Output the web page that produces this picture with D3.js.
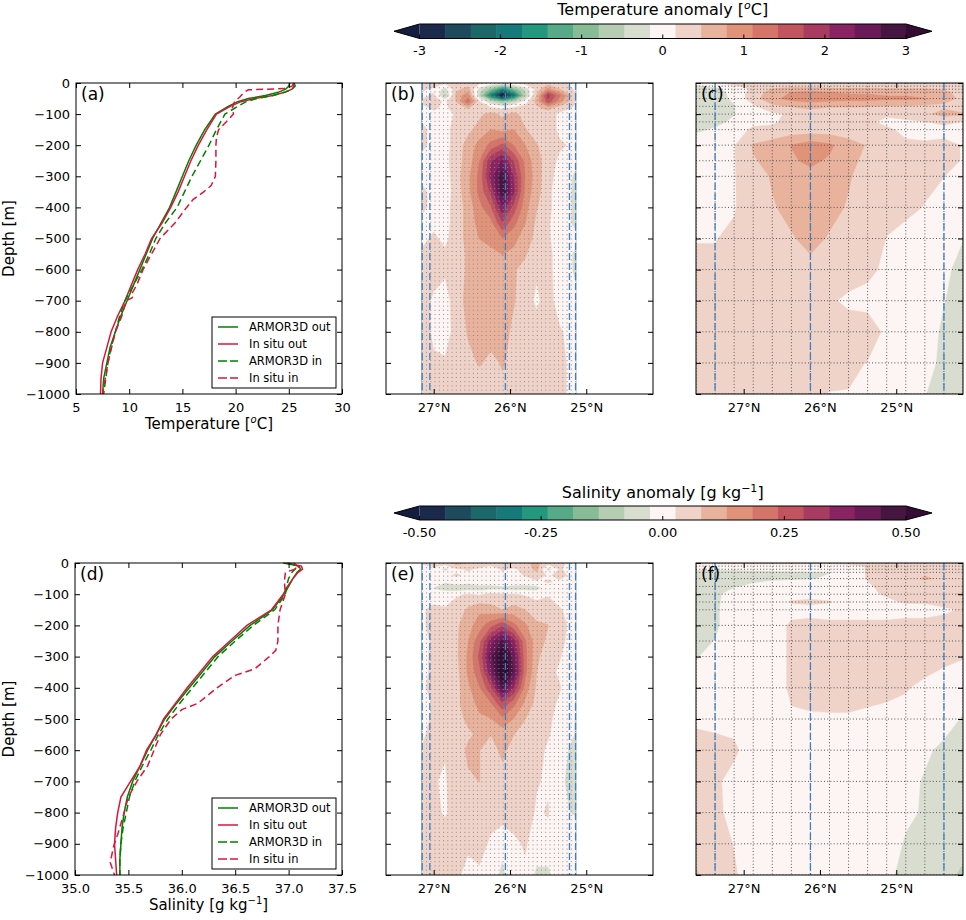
<!DOCTYPE html>
<html lang="en">
<head>
<meta charset="UTF-8">
<title>eddy anomaly sections</title>
<script src="https://cdn.jsdelivr.net/npm/d3@7"></script>
<style>
  body { margin: 0; background: #fff; }
  svg { font-family: "DejaVu Sans", sans-serif; }
</style>
</head>
<body>
<svg id="fig" width="966" height="920"></svg>
<script>
// ---- ticks ----
const depthTicks = [0, 100, 200, 300, 400, 500, 600, 700, 800, 900, 1000];
const latTicks = [27, 26, 25];
const tempTicks = [5, 10, 15, 20, 25, 30];
const salTicks = [35.0, 35.5, 36.0, 36.5, 37.0, 37.5];
const tempCbTicks = [-3, -2, -1, 0, 1, 2, 3];
const salCbTicks = [-0.5, -0.25, 0, 0.25, 0.5];

// discrete colormap (19 levels) + extend colours
const palette = ['#1b2a4c','#1f4a5e','#1c6767','#16797a','#24977f','#56aa88','#88bc97','#b5ceb2','#d9ddd0',
                 '#fcf5f3','#f0d3c8','#e8b29c','#e09378','#d5756a','#c2545f','#a83c60','#8a2362','#6b1a58','#461641'];
const underColor = '#141c40', overColor = '#340d35';

// ---- profiles (a): temperature ----
const tDepth = [0,10,20,30,40,50,60,75,100,150,200,250,300,350,400,450,500,550,600,650,700,750,800,850,900,950,1000];
const armorOutT = [25.1,25.0,24.7,24.0,22.8,21.2,20.2,19.3,18.1,17.1,16.3,15.6,15.0,14.4,13.8,13.0,12.2,11.6,11.0,10.4,9.8,9.2,8.7,8.2,7.9,7.6,7.5];
const insituOutT = [25.4,25.5,25.3,24.6,23.5,21.8,20.5,19.5,18.2,17.3,16.5,15.8,15.2,14.6,13.9,13.1,12.1,11.5,10.8,10.2,9.6,8.9,8.3,7.9,7.5,7.35,7.3];
const armorInT = [25.5,25.6,25.3,24.6,23.5,22.0,21.0,20.2,19.0,18.2,17.5,16.7,15.9,15.2,14.5,13.4,12.5,11.9,11.2,10.4,9.6,9.1,8.7,8.3,8.0,7.8,7.6];
const tDepthInsituIn = [0,10,18,22,30,45,60,80,100,115,150,175,200,250,300,330,350,375,400,450,500,550,600,650,680,690,700,750,800,900,1000];
const insituInT = [25.5,25.3,24.5,21.2,20.8,20.4,19.9,19.7,19.8,19.4,18.4,18.2,18.15,18.15,18.1,17.7,17.0,16.0,15.4,14.3,12.9,12.1,11.3,10.7,10.2,10.3,9.7,9.3,8.7,8.0,7.5];

// ---- profiles (d): salinity ----
const sDepth = [0,10,20,30,50,75,100,150,200,250,300,350,400,450,500,550,600,650,700,750,800,850,900,950,1000];
const armorOutS = [36.95,37.10,37.11,37.08,37.04,37.00,36.96,36.85,36.64,36.47,36.31,36.19,36.07,35.95,35.84,35.76,35.68,35.61,35.54,35.49,35.46,35.44,35.43,35.42,35.42];
const insituOutS = [36.98,37.12,37.13,37.09,37.04,36.99,36.95,36.84,36.61,36.45,36.29,36.17,36.05,35.94,35.83,35.76,35.67,35.61,35.52,35.43,35.40,35.38,35.37,35.38,35.39];
const armorInS = [37.00,37.08,37.06,37.03,37.00,36.98,36.97,36.87,36.67,36.50,36.34,36.22,36.10,35.98,35.87,35.78,35.71,35.63,35.56,35.51,35.48,35.45,35.43,35.42,35.42];
const sDepthInsituIn = [0,15,30,60,100,120,150,200,250,280,300,340,360,400,450,470,500,550,600,650,700,750,800,870,910,960,1000];
const insituInS = [37.05,37.10,36.97,36.96,36.97,36.95,36.92,36.90,36.90,36.88,36.82,36.68,36.50,36.33,36.15,36.00,35.90,35.80,35.74,35.68,35.58,35.50,35.46,35.40,35.36,35.33,35.37];

// ---- glider sections (b, e) ----
const gliderLats = [27.15,27.0,26.85,26.7,26.55,26.4,26.25,26.1,25.95,25.8,25.65,25.5,25.35,25.14];
const gliderDepths = [0,20,40,60,80,100,150,200,250,300,350,400,450,500,550,600,700,800,900,1000];
const tempGlider = [
  [0.2,0.3,0.2,0.3,0.3,0.2,0.1,0.0,0.2,0.3,0.2,0.3,0.2,0.1],
  [0.2,0.1,-0.3,0.4,0.6,-0.3,-0.9,-1.7,-1.0,-0.4,0.3,0.9,0.5,0.1],
  [0.1,0.2,-0.6,0.6,1.0,-0.5,-1.9,-3.3,-2.1,-0.6,0.5,1.9,1.2,0.2],
  [0.2,0.3,0.1,0.5,1.3,0.2,-0.4,-0.8,-0.5,0.0,0.6,1.6,0.9,0.2],
  [0.1,0.2,0.1,0.3,0.5,0.3,0.2,0.1,0.2,0.3,0.4,0.6,0.3,0.1],
  [0.1,0.1,0.05,0.2,0.3,0.4,0.6,0.4,0.6,0.3,0.2,0.3,0.1,0.0],
  [0.2,0.1,0.05,0.3,0.4,0.6,0.8,0.7,0.8,0.5,0.3,0.3,0.1,0.1],
  [0.2,0.1,0.05,0.3,0.6,0.9,1.2,1.5,1.1,0.8,0.5,0.3,0.2,0.1],
  [0.1,0.1,0.05,0.35,0.6,1.1,2.0,2.4,1.7,1.0,0.6,0.3,0.1,-0.1],
  [0.1,0.1,0.0,0.35,0.7,1.2,2.2,2.9,2.0,1.1,0.6,0.3,0.0,-0.2],
  [0.2,0.1,0.0,0.3,0.7,1.2,1.8,2.9,2.1,1.0,0.6,0.25,-0.05,-0.2],
  [0.2,0.1,0.05,0.3,0.6,1.0,1.4,2.3,1.6,0.9,0.5,0.25,-0.05,-0.2],
  [0.1,0.1,0.05,0.3,0.6,0.9,1.0,1.7,1.2,0.8,0.4,0.2,-0.05,-0.2],
  [0.1,0.2,0.1,0.3,0.6,0.8,0.9,1.1,0.9,0.6,0.4,0.2,0.0,-0.1],
  [0.2,0.3,0.2,0.4,0.5,0.6,0.7,0.8,0.7,0.5,0.3,0.25,0.0,-0.2],
  [0.2,0.3,0.2,0.4,0.5,0.5,0.6,0.7,0.5,0.4,0.2,0.25,0.0,-0.2],
  [0.3,0.1,0.05,0.3,0.6,0.5,0.6,0.6,0.5,0.3,0.1,0.3,0.0,-0.1],
  [0.3,0.1,0.0,0.3,0.5,0.6,0.6,0.6,0.4,0.4,0.3,0.3,0.2,0.0],
  [0.3,0.2,0.2,0.3,0.4,0.5,0.4,0.5,0.4,0.3,0.2,0.3,0.2,0.1],
  [0.2,0.2,0.2,0.3,0.3,0.3,0.3,0.4,0.3,0.3,0.2,0.3,0.2,0.1]
];
const salGlider = [
  [0.03,0.04,0.06,0.10,0.08,0.05,0.04,0.06,0.05,0.07,0.09,0.05,0.03,0.02],
  [0.01,0.02,-0.05,0.02,0.03,0.02,0.01,0.03,0.02,0.04,0.10,-0.05,0.03,0.01],
  [0.01,0.00,0.02,0.03,0.02,0.01,0.02,0.02,0.01,0.03,0.05,0.02,0.04,0.01],
  [0.00,0.01,-0.02,0.01,-0.01,0.02,0.00,0.01,0.02,0.00,0.02,0.03,0.02,0.00],
  [0.00,-0.03,-0.06,-0.07,-0.06,-0.06,-0.05,-0.04,-0.06,-0.05,-0.05,0.01,0.00,0.00],
  [0.01,0.00,0.01,0.02,0.03,0.02,0.04,0.03,0.03,0.02,0.01,0.02,0.01,0.00],
  [0.02,0.04,0.03,0.05,0.09,0.12,0.10,0.08,0.10,0.08,0.05,0.06,0.03,0.01],
  [0.02,0.04,0.05,0.07,0.11,0.16,0.22,0.28,0.20,0.14,0.09,0.08,0.04,0.01],
  [0.02,0.03,0.05,0.07,0.13,0.22,0.37,0.46,0.36,0.19,0.10,0.07,0.04,0.00],
  [0.01,0.04,0.05,0.07,0.14,0.25,0.43,0.56,0.42,0.20,0.09,0.05,0.03,-0.01],
  [0.01,0.04,0.06,0.06,0.14,0.22,0.38,0.57,0.44,0.20,0.08,0.04,0.02,-0.01],
  [0.02,0.04,0.05,0.06,0.12,0.18,0.28,0.46,0.34,0.16,0.07,0.04,0.03,-0.01],
  [0.01,0.03,0.04,0.07,0.10,0.15,0.18,0.28,0.20,0.12,0.06,0.04,0.02,-0.01],
  [0.02,0.03,0.03,0.06,0.09,0.12,0.13,0.17,0.13,0.08,0.05,0.03,0.02,-0.03],
  [0.02,0.04,0.04,0.05,0.07,0.09,0.08,0.10,0.08,0.06,0.04,0.03,0.01,-0.03],
  [0.03,0.04,0.03,0.05,0.09,0.08,0.06,0.09,0.06,0.05,0.04,0.02,-0.01,-0.04],
  [0.04,0.03,0.02,0.06,0.07,0.08,0.05,0.06,0.03,0.05,0.03,0.02,-0.02,-0.04],
  [0.05,0.04,0.02,0.05,0.06,0.05,0.04,0.05,0.04,0.05,0.02,0.03,-0.02,-0.03],
  [0.04,0.05,0.06,0.04,0.03,0.04,0.02,-0.01,0.02,0.03,0.01,0.01,0.02,0.00],
  [0.03,0.04,0.05,0.03,0.02,0.02,0.00,-0.04,0.01,0.02,-0.04,-0.04,0.01,0.00]
];

// ---- ARMOR3D sections (c, f) ----
const armorLats = [27.625,27.375,27.125,26.875,26.625,26.375,26.125,25.875,25.625,25.375,25.125,24.875,24.625,24.375,24.125];
const armorDepths = [0,10,20,30,50,75,100,125,150,200,250,300,400,500,600,700,800,900,1000];
const tempArmor = [
  [-0.1,0.1,0.3,0.3,0.3,0.35,0.35,0.3,0.3,0.3,0.3,0.3,0.3,0.3,0.2],
  [-0.2,-0.1,0.1,0.3,0.35,0.4,0.4,0.35,0.35,0.35,0.35,0.35,0.35,0.3,0.3],
  [-0.3,-0.25,0.0,0.2,0.5,0.6,0.6,0.55,0.55,0.55,0.5,0.5,0.5,0.45,0.3],
  [-0.35,-0.3,-0.05,0.3,0.6,0.8,0.85,0.8,0.75,0.75,0.7,0.7,0.65,0.55,0.35],
  [-0.35,-0.3,-0.1,0.35,0.7,0.9,1.0,0.95,0.9,0.9,0.85,0.85,0.8,0.6,0.4],
  [-0.35,-0.3,-0.18,0.1,0.4,0.5,0.55,0.5,0.5,0.5,0.45,0.45,0.4,0.4,0.35],
  [-0.35,-0.3,-0.17,0.05,0.1,0.2,0.35,0.3,0.25,0.2,0.2,0.3,0.4,0.6,0.5],
  [-0.3,-0.25,-0.1,0.1,0.1,0.3,0.4,0.35,0.3,0.2,0.1,0.1,0.15,0.2,0.15],
  [-0.22,-0.12,0.05,0.2,0.25,0.3,0.3,0.3,0.3,0.25,0.2,0.1,0.05,0.1,0.1],
  [0.05,0.08,0.14,0.5,0.6,0.8,0.95,0.85,0.6,0.45,0.3,0.2,0.2,0.2,0.15],
  [0.05,0.08,0.14,0.45,0.55,0.75,0.85,0.75,0.55,0.4,0.3,0.2,0.2,0.2,0.15],
  [0.05,0.08,0.14,0.35,0.5,0.6,0.7,0.6,0.5,0.35,0.25,0.2,0.2,0.16,0.1],
  [0.05,0.08,0.14,0.3,0.45,0.55,0.65,0.55,0.45,0.3,0.25,0.2,0.15,0.1,0.05],
  [0.15,0.15,0.2,0.3,0.4,0.45,0.55,0.45,0.35,0.3,0.15,0.1,0.05,-0.05,-0.15],
  [0.2,0.2,0.25,0.3,0.3,0.35,0.4,0.35,0.3,0.2,0.12,0.1,0.0,-0.1,-0.25],
  [0.25,0.25,0.25,0.3,0.3,0.3,0.3,0.2,0.1,0.1,0.1,0.05,0.0,-0.15,-0.25],
  [0.3,0.3,0.3,0.3,0.3,0.3,0.3,0.3,0.3,0.25,0.12,0.05,-0.05,-0.2,-0.3],
  [0.3,0.3,0.3,0.3,0.3,0.3,0.3,0.25,0.2,0.15,0.1,0.0,-0.1,-0.2,-0.3],
  [0.25,0.25,0.25,0.25,0.25,0.2,0.2,0.15,0.15,0.1,0.05,-0.05,-0.15,-0.25,-0.3]
];
const salArmor = [
  [0.04,0.04,0.04,0.04,0.04,0.04,0.04,0.04,0.04,0.04,0.04,0.05,0.05,0.05,0.05],
  [0.0,0.0,0.0,0.0,0.0,0.0,0.0,0.0,0.01,0.03,0.04,0.05,0.05,0.05,0.05],
  [-0.02,-0.02,-0.02,-0.015,-0.01,-0.005,0.0,0.0,0.0,0.03,0.04,0.05,0.06,0.06,0.05],
  [-0.045,-0.045,-0.045,-0.04,-0.04,-0.037,-0.035,-0.028,0.0,0.03,0.04,0.05,0.07,0.06,0.05],
  [-0.045,-0.045,-0.04,-0.035,-0.033,-0.032,-0.03,-0.02,0.0,0.03,0.04,0.06,0.085,0.07,0.05],
  [-0.045,-0.04,-0.03,-0.02,-0.01,0.0,0.0,0.0,0.0,0.02,0.04,0.04,0.05,0.05,0.05],
  [-0.045,-0.035,-0.01,0.0,0.0,0.01,0.01,0.0,0.0,0.02,0.03,0.04,0.05,0.07,0.085],
  [-0.045,-0.035,-0.005,0.0,0.0,0.03,0.035,0.03,0.0,0.0,0.02,0.03,0.03,0.04,0.04],
  [-0.045,-0.035,0.0,0.0,0.0,0.01,0.01,0.0,0.0,0.0,0.0,0.01,0.01,0.02,0.03],
  [-0.045,-0.035,0.0,0.0,0.0,0.035,0.04,0.04,0.04,0.04,0.04,0.04,0.04,0.04,0.04],
  [-0.04,-0.025,0.0,0.0,0.0,0.035,0.045,0.05,0.05,0.05,0.05,0.05,0.05,0.05,0.045],
  [-0.03,-0.01,0.0,0.0,0.0,0.035,0.045,0.05,0.05,0.05,0.05,0.05,0.05,0.04,0.03],
  [0.0,0.0,0.0,0.0,0.0,0.035,0.045,0.05,0.05,0.045,0.04,0.03,0.015,0.0,-0.01],
  [0.02,0.015,0.01,0.01,0.01,0.02,0.02,0.02,0.02,0.015,0.01,0.01,0.0,-0.01,-0.03],
  [0.04,0.04,0.035,0.0,0.0,0.0,0.0,0.0,0.0,0.0,0.0,0.0,-0.02,-0.035,-0.045],
  [0.04,0.035,0.01,0.0,0.0,0.0,0.0,0.0,0.0,0.0,0.0,-0.015,-0.03,-0.04,-0.045],
  [0.045,0.035,0.015,0.0,0.0,0.0,0.0,0.0,0.0,0.0,0.0,-0.02,-0.03,-0.04,-0.05],
  [0.06,0.04,0.025,0.0,0.0,0.0,0.0,0.0,0.0,0.0,-0.01,-0.03,-0.035,-0.045,-0.06],
  [0.085,0.045,0.03,0.01,0.0,0.0,0.0,0.0,0.0,0.0,-0.02,-0.035,-0.045,-0.06,-0.09]
];

const gliderMarks = [27.15, 27.05, 26.06, 25.22, 25.14];   // blue dashed lines (b, e)
const armorMarks = [27.375, 26.125, 24.375];               // blue dashed lines (c, f)

// ---- layout ----
const svg = d3.select('#fig');
const boxes = {
  a: {l: 76, r: 342, t: 83, b: 394}, b: {l: 386, r: 653, t: 83, b: 394}, c: {l: 696, r: 963, t: 83, b: 394},
  d: {l: 75, r: 342, t: 563, b: 875}, e: {l: 386, r: 653, t: 563, b: 875}, f: {l: 696, r: 963, t: 563, b: 875}
};
const green = '#008000', red = '#dc143c';
const levelsFor = (lo, hi) => d3.range(20).map(k => lo + k * (hi - lo) / 19);
const depthFmt = d => d === 0 ? '0' : '\u2212' + d;

function clean(sel) {
  sel.select('.domain').remove();
  sel.attr('font-family', 'DejaVu Sans').attr('font-size', 13);
  sel.selectAll('line').attr('stroke', '#000');
  sel.selectAll('text').attr('fill', '#000');
}

function axes(box, x, y, xTicks, xFmt, yLab) {
  const tk = 5;
  svg.append('g').attr('transform', `translate(0,${box.b})`)
    .call(d3.axisBottom(x).tickValues(xTicks).tickSize(-tk).tickPadding(9).tickFormat(xFmt)).call(clean);
  svg.append('g').attr('transform', `translate(0,${box.t})`)
    .call(d3.axisTop(x).tickValues(xTicks).tickSize(-tk).tickFormat('')).call(clean);
  svg.append('g').attr('transform', `translate(${box.l},0)`)
    .call(d3.axisLeft(y).tickValues(depthTicks).tickSize(-tk).tickPadding(6).tickFormat(yLab ? depthFmt : '')).call(clean);
  svg.append('g').attr('transform', `translate(${box.r},0)`)
    .call(d3.axisRight(y).tickValues(depthTicks).tickSize(-tk).tickFormat('')).call(clean);
  svg.append('rect').attr('x', box.l).attr('y', box.t).attr('width', box.r - box.l).attr('height', box.b - box.t)
    .attr('fill', 'none').attr('stroke', '#000').attr('stroke-width', 1);
}

function panelLabel(box, txt) {
  svg.append('text').attr('x', box.l + 5).attr('y', box.t + 17).attr('font-size', 17).text(txt);
}

function profilePanel(box, domain, xTicks, xFmt, series, label, xLabelParts) {
  const x = d3.scaleLinear().domain(domain).range([box.l, box.r]);
  const y = d3.scaleLinear().domain([0, 1000]).range([box.t, box.b]);
  const g = svg.append('g');
  series.forEach(s => {
    g.append('path').datum(d3.zip(s.depth, s.vals))
      .attr('d', d3.line().x(d => x(d[1])).y(d => y(d[0])))
      .attr('fill', 'none').attr('stroke', s.color).attr('stroke-width', 1.5)
      .attr('stroke-dasharray', s.dash ? '7,4' : null);
  });
  axes(box, x, y, xTicks, xFmt, true);
  panelLabel(box, label);
  // legend
  const lg = svg.append('g').attr('transform', `translate(${box.r - 130},${box.b - 77})`);
  lg.append('rect').attr('width', 124).attr('height', 71).attr('fill', '#fff').attr('stroke', '#000').attr('stroke-width', 1);
  series.forEach((s, i) => {
    const yy = 10 + i * 17;
    lg.append('line').attr('x1', 6).attr('x2', 26).attr('y1', yy).attr('y2', yy)
      .attr('stroke', s.color).attr('stroke-width', 1.5).attr('stroke-dasharray', s.dash ? '9,3' : null);
    lg.append('text').attr('x', 37).attr('y', yy + 4).attr('font-size', 11.5).text(s.name);
  });
  // axis labels
  svg.append('text').attr('transform', `translate(14,${(box.t + box.b) / 2}) rotate(-90)`)
    .attr('text-anchor', 'middle').attr('font-size', 15).text('Depth [m]');
  const xl = svg.append('text').attr('x', (box.l + box.r) / 2).attr('y', box.b + 35)
    .attr('text-anchor', 'middle').attr('font-size', 15);
  xLabelParts(xl);
}

function drawField(g, box, lats, depths, grid, lo, hi, marks, dotLats, dotDepths, dot) {
  const x = d3.scaleLinear().domain([27.625, 24.125]).range([box.l, box.r]);
  const y = d3.scaleLinear().domain([0, 1000]).range([box.t, box.b]);
  const n = lats.length, m = depths.length;
  const ix = d3.scaleLinear().domain(d3.range(n)).range(lats).clamp(true);
  const iy = d3.scaleLinear().domain(d3.range(m)).range(depths).clamp(true);
  const levels = [-1e9].concat(levelsFor(lo, hi));
  const colors = [underColor].concat(palette, [overColor]);
  const cs = d3.contours().size([n, m]).thresholds(levels)(grid.flat());
  const toPath = mp => mp.coordinates.map(poly => poly.map(ring =>
    'M' + ring.map(p => x(ix(p[0] - 0.5)).toFixed(2) + ',' + y(iy(p[1] - 0.5)).toFixed(2)).join('L') + 'Z').join('')).join('');
  const clipId = 'clip' + Math.round(box.l) + '_' + Math.round(box.t);
  svg.append('clipPath').attr('id', clipId).append('rect')
    .attr('x', box.l).attr('y', box.t).attr('width', box.r - box.l).attr('height', box.b - box.t);
  const fg = g.append('g').attr('clip-path', `url(#${clipId})`);
  fg.selectAll('path.fill').data(cs).join('path').attr('class', 'fill')
    .attr('d', toPath).attr('fill-rule', 'evenodd')
    .attr('fill', (d, i) => colors[i]).attr('stroke', (d, i) => colors[i]).attr('stroke-width', 0.4);
  // dotted sampling grid
  fg.selectAll('line.dv').data(dotLats).join('line').attr('class', 'dv')
    .attr('x1', d => x(d)).attr('x2', d => x(d)).attr('y1', box.t).attr('y2', box.b)
    .attr('stroke', dot.color).attr('stroke-width', 1).attr('stroke-dasharray', dot.dash);
  fg.selectAll('line.dh').data(dotDepths).join('line').attr('class', 'dh')
    .attr('x1', box.l).attr('x2', box.r).attr('y1', d => y(d)).attr('y2', d => y(d))
    .attr('stroke', dot.color).attr('stroke-width', 1).attr('stroke-dasharray', dot.dash);
  fg.selectAll('line.mk').data(marks).join('line').attr('class', 'mk')
    .attr('x1', d => x(d)).attr('x2', d => x(d)).attr('y1', box.t).attr('y2', box.b)
    .attr('stroke', '#3c80c3').attr('stroke-width', 1.3).attr('stroke-dasharray', '7,3');
  axes(box, x, y, latTicks, d => d + '\u00b0N', false);
}

function colorbar(y0, y1, lo, hi, ticks, fmt, titleParts, titleY, labelY) {
  const x0 = 419.5, x1 = 906, tipL = 394, tipR = 932, mid = (y0 + y1) / 2;
  const s = d3.scaleLinear().domain([lo, hi]).range([x0, x1]);
  const lv = levelsFor(lo, hi);
  const g = svg.append('g');
  g.selectAll('rect').data(palette).join('rect')
    .attr('x', (d, i) => s(lv[i])).attr('width', (d, i) => s(lv[i + 1]) - s(lv[i]) + 0.5)
    .attr('y', y0).attr('height', y1 - y0).attr('fill', d => d);
  g.append('path').attr('d', `M${tipL},${mid}L${x0},${y0}L${x0},${y1}Z`).attr('fill', underColor);
  g.append('path').attr('d', `M${tipR},${mid}L${x1},${y0}L${x1},${y1}Z`).attr('fill', overColor);
  g.append('path').attr('d', `M${x0},${y0}L${x1},${y0}L${tipR},${mid}L${x1},${y1}L${x0},${y1}L${tipL},${mid}Z`)
    .attr('fill', 'none').attr('stroke', '#000').attr('stroke-width', 1);
  g.selectAll('line.t').data(ticks).join('line').attr('class', 't')
    .attr('x1', d => s(d)).attr('x2', d => s(d)).attr('y1', y1).attr('y2', y1 - 4).attr('stroke', '#000');
  g.selectAll('text.t').data(ticks).join('text').attr('class', 't')
    .attr('x', d => s(d)).attr('y', labelY).attr('text-anchor', 'middle').attr('font-size', 13).text(fmt);
  const t = g.append('text').attr('x', (x0 + x1) / 2).attr('y', titleY).attr('text-anchor', 'middle').attr('font-size', 16);
  titleParts(t);
}

// ---- draw ----
profilePanel(boxes.a, [5, 30], tempTicks, d => d, [
  {name: 'ARMOR3D out', depth: tDepth, vals: armorOutT, color: green, dash: false},
  {name: 'In situ out', depth: tDepth, vals: insituOutT, color: red, dash: false},
  {name: 'ARMOR3D in', depth: tDepth, vals: armorInT, color: green, dash: true},
  {name: 'In situ in', depth: tDepthInsituIn, vals: insituInT, color: red, dash: true}
], '(a)', t => {
  t.append('tspan').text('Temperature [');
  t.append('tspan').attr('dy', -6).attr('font-size', 10).attr('font-style', 'italic').text('o');
  t.append('tspan').attr('dy', 6).text('C]');
});

profilePanel(boxes.d, [35, 37.5], salTicks, d3.format('.1f'), [
  {name: 'ARMOR3D out', depth: sDepth, vals: armorOutS, color: green, dash: false},
  {name: 'In situ out', depth: sDepth, vals: insituOutS, color: red, dash: false},
  {name: 'ARMOR3D in', depth: sDepth, vals: armorInS, color: green, dash: true},
  {name: 'In situ in', depth: sDepthInsituIn, vals: insituInS, color: red, dash: true}
], '(d)', t => {
  t.append('tspan').text('Salinity [g kg');
  t.append('tspan').attr('dy', -6).attr('font-size', 10).text('\u22121');
  t.append('tspan').attr('dy', 6).text(']');
});

const gliderDots = d3.range(37).map(k => 27.15 + k * (25.14 - 27.15) / 36);
const fineDots = {color: '#8a8a8a', dash: '1,3.2'};
const gridDots = {color: '#555', dash: '1,2.2'};
drawField(svg.append('g'), boxes.b, gliderLats, gliderDepths, tempGlider, -3, 3, gliderMarks, gliderDots, [], fineDots);
drawField(svg.append('g'), boxes.e, gliderLats, gliderDepths, salGlider, -0.5, 0.5, gliderMarks, gliderDots, [], fineDots);
drawField(svg.append('g'), boxes.c, armorLats, armorDepths, tempArmor, -3, 3, armorMarks, armorLats, armorDepths, gridDots);
drawField(svg.append('g'), boxes.f, armorLats, armorDepths, salArmor, -0.5, 0.5, armorMarks, armorLats, armorDepths, gridDots);
panelLabel(boxes.b, '(b)'); panelLabel(boxes.c, '(c)');
panelLabel(boxes.e, '(e)'); panelLabel(boxes.f, '(f)');

colorbar(24, 38.5, -3, 3, tempCbTicks, d => String(d), t => {
  t.append('tspan').text('Temperature anomaly [');
  t.append('tspan').attr('dy', -6).attr('font-size', 11).attr('font-style', 'italic').text('o');
  t.append('tspan').attr('dy', 6).text('C]');
}, 15, 55);

colorbar(506, 520, -0.5, 0.5, salCbTicks, d => d3.format('.2f')(d).replace('\u2212', '-'), t => {
  t.append('tspan').text('Salinity anomaly [g kg');
  t.append('tspan').attr('dy', -6).attr('font-size', 11).text('\u22121');
  t.append('tspan').attr('dy', 6).text(']');
}, 498, 537);
</script>
</body>
</html>
